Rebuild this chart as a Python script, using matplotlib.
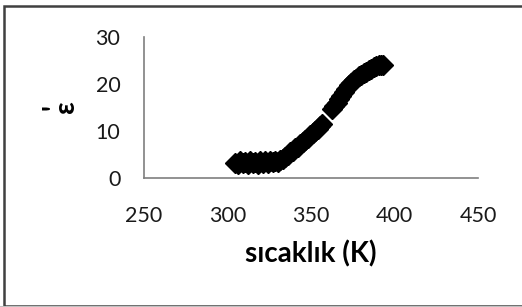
import matplotlib.pyplot as plt
from matplotlib.patches import Rectangle

# sıcaklık (K) ve ε' değerleri
sicaklik = [304.5, 306, 307.5, 309, 310.5, 312, 313.5, 315, 316.5, 318,
            319.5, 321, 322.5, 324, 325.5, 327, 328.5, 330,
            331.5, 333, 334.5, 336, 337.5, 339, 340.5, 342, 343.5, 345,
            346.5, 348, 349.5, 351, 352.5, 354, 355.3, 356.3,
            362.8, 364, 365.3, 366.7, 368, 369.5, 371, 372.5, 374, 375.5,
            377, 378.5, 380, 381.5, 383, 384.5, 386, 387.5, 389, 390.5,
            392, 393]
eps = [3.3, 3.1, 3.6, 3.2, 3.5, 3.0, 3.6, 3.2, 3.5, 3.1,
       3.6, 3.3, 3.6, 3.2, 3.7, 3.4, 3.6, 3.5,
       3.9, 4.1, 4.6, 4.9, 5.5, 5.8, 6.4, 6.7, 7.3, 7.6,
       8.2, 8.5, 9.1, 9.5, 10.0, 10.4, 11.0, 11.4,
       14.7, 15.4, 16.0, 16.9, 17.5, 18.3, 18.9, 19.7, 20.1, 20.8,
       21.1, 21.6, 21.9, 22.3, 22.5, 22.9, 23.1, 23.5, 23.7, 24.0,
       24.1, 24.0]

x_ticks = [250, 300, 350, 400, 450]
y_ticks = [0, 10, 20, 30]

plt.rcParams['font.family'] = ['Lato', 'DejaVu Sans']

fig = plt.figure(figsize=(5.22, 3.07), dpi=100)
ax = fig.add_axes([0.2759, 0.4192, 0.6398, 0.4613])

ax.plot(sicaklik, eps, linestyle='none', marker='D', markersize=10.5,
        color='black', markeredgecolor='black', clip_on=False)

ax.set_xlim(250, 450)
ax.set_ylim(0, 30)
ax.set_xticks(x_ticks)
ax.set_yticks(y_ticks)
ax.tick_params(length=0, labelsize=15.5, colors='#1a1a1a')
ax.tick_params(axis='x', pad=20)
ax.tick_params(axis='y', pad=17)

for s in ['top', 'right']:
    ax.spines[s].set_visible(False)
for s in ['left', 'bottom']:
    ax.spines[s].set_color('#7f7f7f')
    ax.spines[s].set_linewidth(1.2)

ax.set_xlabel('sıcaklık (K)', fontsize=20, fontweight='bold', labelpad=10)

# ε' etiketi: üs işareti ε'nin üstünde, döndürülünce sola düşüyor
fig.text(60 / 522, 1 - 107 / 307, "'\nε", fontsize=20, fontweight='bold',
         rotation=90, ha='center', va='center', multialignment='center',
         linespacing=0.3)

# dış çerçeve
fig.patches.append(Rectangle((4 / 522, 1 / 307), 1.2, 1 - 7 / 307,
                             transform=fig.transFigure, fill=False,
                             edgecolor='#404040', linewidth=1.8))
fig.patches.append(Rectangle((0, 0.5 / 307), 1, 0, transform=fig.transFigure,
                             fill=False, edgecolor='#c0c0c0', linewidth=1.5))

fig.savefig('out.png', dpi=100)
